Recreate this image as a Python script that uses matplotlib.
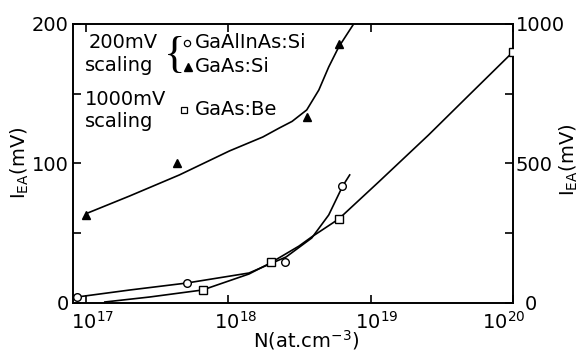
import numpy as np
import matplotlib
matplotlib.use("Agg")
import matplotlib.pyplot as plt
from matplotlib.ticker import FixedLocator, NullLocator
from matplotlib.transforms import ScaledTranslation

plt.rcParams['font.family'] = ['DejaVu Sans']
plt.rcParams['mathtext.fontset'] = 'dejavusans'

# ---- data ----
# GaAlInAs:Si (circles, left 200 mV scale)
alinas_N = [8.7e16, 5.1e17, 2.5e18, 6.3e18]
alinas_I = [4.3, 14.3, 29.4, 83.9]
alinas_curve_N = [8.1e16, 8.7e16, 2.03e17, 5.1e17, 1.4e18, 2.55e18, 3.86e18, 5.08e18, 6.37e18, 7.13e18]
alinas_curve_I = [3.6, 4.3, 9.3, 14.3, 21.5, 33.0, 46.6, 63.1, 83.9, 91.8]

# GaAs:Si (triangles, left 200 mV scale)
si_N = [1.0e17, 4.4e17, 3.6e18, 6.0e18]
si_I = [63.0, 100.0, 133.0, 186.0]
si_curve_N = [1.03e17, 2.03e17, 4.54e17, 1.02e18, 1.75e18, 2.28e18, 2.81e18, 3.56e18, 4.33e18, 5.08e18, 5.97e18, 7.6e18]
si_curve_I = [64.5, 76.7, 91.8, 109.0, 119.0, 125.4, 130.2, 138.4, 152.7, 169.2, 183.5, 200.0]

# GaAs:Be (squares, right 1000 mV scale)
be_N = [6.6e17, 2.0e18, 6.0e18, 1.0e20]
be_I = [46.6, 147.0, 301.0, 900.0]
be_curve_N = [1.36e17, 2.81e17, 6.6e17, 1.4e18, 1.97e18, 3.14e18, 3.86e18, 5.97e18, 1.14e19, 2.55e19, 4.84e19, 1.0e20]
be_curve_I = [3.6, 21.5, 46.6, 104.0, 143.0, 204.0, 237.0, 301.0, 434.0, 602.0, 742.0, 900.0]

x_ticks = [1e17, 1e18, 1e19, 1e20]
x_ticklabels = [r'$10^{17}$', r'$10^{18}$', r'$10^{19}$', r'$10^{20}$']
left_ticks = [0, 50, 100, 150, 200]
left_ticklabels = ['0', '', '100', '', '200']
right_ticks = [0, 250, 500, 750, 1000]
right_ticklabels = ['0', '', '500', '', '1000']

# ---- figure ----
fig = plt.figure(figsize=(5.85, 3.53), dpi=100)
L, R, B, T = 73/585, 513/585, (353-303)/353, (353-24)/353
ax = fig.add_axes([L, B, R-L, T-B])
ax2 = ax.twinx()

lw = 1.2
fs = 14
ax.set_xscale('log')
ax.set_xlim(10**16.91, 1e20)
ax.set_ylim(0, 200)
ax2.set_ylim(0, 1000)

ax.plot(alinas_curve_N, alinas_curve_I, color='black', lw=lw)
ax.plot(alinas_N, alinas_I, 'o', mfc='white', mec='black', mew=1.0, ms=5.5, ls='none', zorder=5)
ax.plot(si_curve_N, si_curve_I, color='black', lw=lw)
ax.plot(si_N, si_I, '^', color='black', ms=6, ls='none', zorder=5)
ax2.plot(be_curve_N, be_curve_I, color='black', lw=lw)
ax2.plot(be_N, be_I, 's', mfc='white', mec='black', mew=1.0, ms=5.5, ls='none', zorder=5)

for a in (ax, ax2):
    for s in a.spines.values():
        s.set_linewidth(lw)
        s.set_color('black')

ax.xaxis.set_major_locator(FixedLocator(x_ticks))
ax.xaxis.set_minor_locator(NullLocator())
ax.set_xticklabels(x_ticklabels)
ax.set_yticks(left_ticks)
ax.set_yticklabels(left_ticklabels)
ax2.set_yticks(right_ticks)
ax2.set_yticklabels(right_ticklabels)

ax.tick_params(axis='x', which='both', direction='in', top=True, length=6, width=lw,
               labelsize=fs, pad=6)
ax.tick_params(axis='y', direction='in', length=6, width=lw, labelsize=fs, pad=3)
ax2.tick_params(axis='y', direction='in', length=6, width=lw, labelsize=fs, pad=2)

# shift x tick labels like the reference
shifts = [7, 7, 6, -9]
for lab, dx in zip(ax.get_xticklabels(), shifts):
    lab.set_transform(lab.get_transform() + ScaledTranslation(dx/100, 0, fig.dpi_scale_trans))
# right-axis "0" sits a little further out in the reference
r0 = ax2.get_yticklabels()[0]
r0.set_transform(r0.get_transform() + ScaledTranslation(9/100, 0, fig.dpi_scale_trans))

ax.set_xlabel(r'N(at.cm$^{-3}$)', fontsize=fs)
ax.xaxis.set_label_coords(0.53, -0.09)
fig.text(20/585, 1-163/353, r'I$_{\mathregular{EA}}$(mV)', fontsize=fs, rotation=90,
         ha='center', va='center')
fig.text(569/585, 1-160/353, r'I$_{\mathregular{EA}}$(mV)', fontsize=fs, rotation=90,
         ha='center', va='center')

# ---- in-plot legend ----
tr = ax.transAxes
ax.text(0.036, 0.932, '200mV', transform=tr, fontsize=fs, va='center', ha='left')
ax.text(0.028, 0.853, 'scaling', transform=tr, fontsize=fs, va='center', ha='left')
ax.text(0.028, 0.728, '1000mV', transform=tr, fontsize=fs, va='center', ha='left')
ax.text(0.028, 0.649, 'scaling', transform=tr, fontsize=fs, va='center', ha='left')
ax.text(0.232, 0.885, '{', transform=tr, fontsize=32, va='center', ha='center',
        family='Liberation Serif')
ax.plot([0.259], [0.932], 'o', mfc='white', mec='black', mew=0.9, ms=4.5, transform=tr, clip_on=False)
ax.plot([0.261], [0.846], '^', color='black', ms=5.5, transform=tr, clip_on=False)
ax.plot([0.252], [0.692], 's', mfc='white', mec='black', mew=0.9, ms=4.5, transform=tr, clip_on=False)
ax.text(0.277, 0.932, 'GaAlInAs:Si', transform=tr, fontsize=fs, va='center', ha='left')
ax.text(0.277, 0.846, 'GaAs:Si', transform=tr, fontsize=fs, va='center', ha='left')
ax.text(0.277, 0.692, 'GaAs:Be', transform=tr, fontsize=fs, va='center', ha='left')

fig.savefig('out.png', dpi=100, facecolor='white')
